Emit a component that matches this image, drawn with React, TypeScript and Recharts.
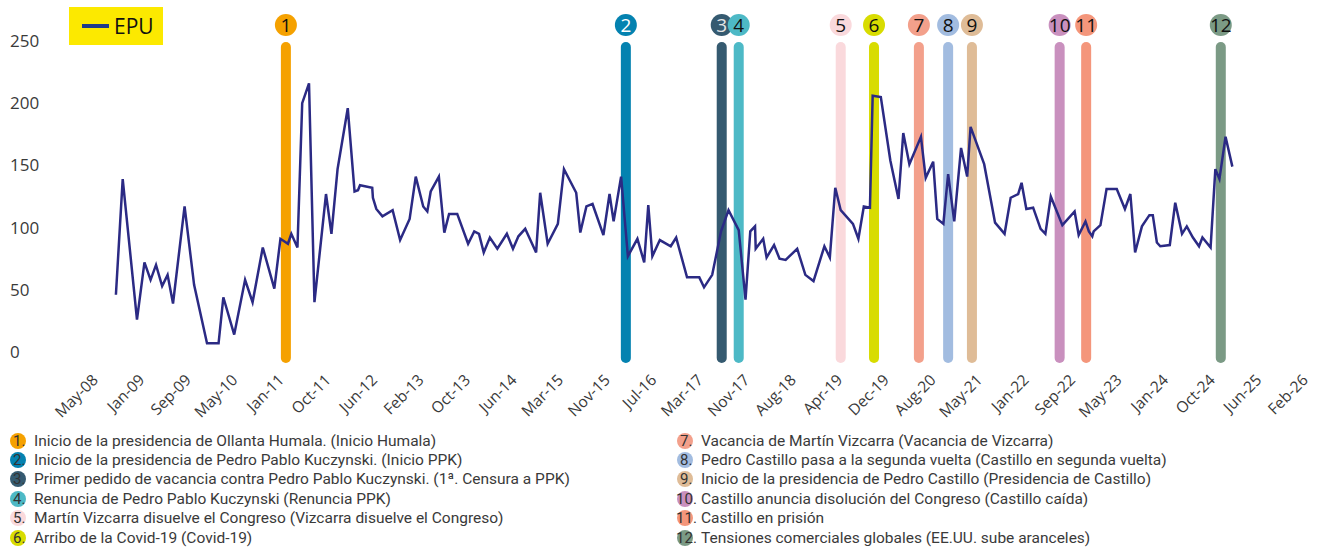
import { LineChart, Line, XAxis, YAxis, ReferenceLine } from "recharts";

// fechas en años decimales, valores del índice EPU
const epuTimes = [
  2009.08, 2009.18, 2009.39, 2009.5, 2009.59, 2009.67, 2009.76, 2009.84, 2009.92, 2010.09,
  2010.23, 2010.42, 2010.59, 2010.66, 2010.82, 2010.98, 2011.09, 2011.24, 2011.41, 2011.5,
  2011.61, 2011.66, 2011.75, 2011.82, 2011.92, 2012.0, 2012.17, 2012.25, 2012.34, 2012.49,
  2012.59, 2012.64, 2012.67, 2012.85, 2012.86, 2012.91, 2013.0, 2013.15, 2013.26, 2013.4,
  2013.49, 2013.6, 2013.66, 2013.71, 2013.83, 2013.91, 2013.98, 2014.1, 2014.26, 2014.35,
  2014.42, 2014.49, 2014.58, 2014.69, 2014.83, 2014.92, 2015.0, 2015.1, 2015.26, 2015.32,
  2015.43, 2015.58, 2015.67, 2015.85, 2015.91, 2016.0, 2016.09, 2016.25, 2016.34, 2016.4,
  2016.51, 2016.61, 2016.75, 2016.85, 2016.91, 2016.97, 2017.08, 2017.24, 2017.32, 2017.48,
  2017.66, 2017.73, 2017.85, 2017.98, 2018.09, 2018.24, 2018.34, 2018.41, 2018.48, 2018.49,
  2018.6, 2018.65, 2018.76, 2018.84, 2018.93, 2019.1, 2019.22, 2019.34, 2019.5, 2019.58,
  2019.66, 2019.74, 2019.92, 2020.0, 2020.08, 2020.17, 2020.21, 2020.33, 2020.47, 2020.59,
  2020.66, 2020.75, 2020.92, 2020.99, 2021.1, 2021.16, 2021.25, 2021.32, 2021.41, 2021.51,
  2021.6, 2021.65, 2021.85, 2022.01, 2022.15, 2022.24, 2022.35, 2022.4, 2022.47, 2022.57,
  2022.68, 2022.75, 2022.83, 2023.0, 2023.18, 2023.24, 2023.34, 2023.39, 2023.44, 2023.46,
  2023.56, 2023.65, 2023.8, 2023.92, 2024.0, 2024.07, 2024.17, 2024.28, 2024.33, 2024.39,
  2024.44, 2024.58, 2024.66, 2024.76, 2024.83, 2024.92, 2025.01, 2025.06, 2025.18, 2025.25,
  2025.31, 2025.4, 2025.5,
];

const epuValues = [
  46, 139, 26, 72, 58, 70, 53, 62, 39, 117,
  54, 7, 7, 44, 14, 58, 40, 84, 51, 91,
  87, 95, 84, 200, 216, 40, 127, 95, 147, 196,
  129, 130, 134, 132, 124, 115, 109, 114, 90, 107,
  141, 117, 113, 129, 141, 96, 111, 111, 87, 97,
  95, 80, 92, 83, 95, 83, 93, 99, 80, 128,
  87, 103, 147, 128, 96, 117, 119, 94, 127, 105,
  141, 77, 91, 72, 118, 77, 90, 85, 92, 60,
  60, 52, 62, 97, 114, 98, 42, 97, 101, 83,
  91, 76, 86, 75, 74, 83, 62, 57, 85, 76,
  132, 114, 103, 91, 117, 116, 206, 205, 154, 123,
  176, 151, 173, 140, 153, 107, 103, 143, 105, 164,
  141, 181, 151, 104, 95, 124, 127, 136, 115, 116,
  99, 95, 125, 102, 113, 94, 105, 97, 93, 97,
  102, 131, 131, 115, 127, 80, 101, 110, 110, 88,
  85, 86, 120, 95, 101, 92, 85, 92, 84, 147,
  139, 173, 149,
];

// eje x: una marca cada 250 días desde el 1 de mayo de 2008
const axisStart = 2008.3313;
const axisStepDays = 250;
const xTickLabels = [
  "May-08", "Jan-09", "Sep-09", "May-10", "Jan-11", "Oct-11", "Jun-12", "Feb-13", "Oct-13",
  "Jun-14", "Mar-15", "Nov-15", "Jul-16", "Mar-17", "Nov-17", "Aug-18", "Apr-19", "Dec-19",
  "Aug-20", "May-21", "Jan-22", "Sep-22", "May-23", "Jan-24", "Oct-24", "Jun-25", "Feb-26",
];
const yTicks = [0, 50, 100, 150, 200, 250];

// eventos
const eventTimes = [
  2011.58, 2016.58, 2017.99, 2018.24, 2019.74, 2020.23, 2020.89, 2021.32, 2021.67, 2022.96,
  2023.35, 2025.33,
];
const eventColors = [
  "#F5A100", "#0482B0", "#355A70", "#4DB9C6", "#FAD9DC", "#D8DC00",
  "#F3A08B", "#A2BCE0", "#DFBC97", "#C990BE", "#F4967B", "#7B9A85",
];
const eventNumberColors = [
  "#111", "#fff", "#e6e6e6", "#111", "#111", "#111",
  "#111", "#111", "#111", "#111", "#111", "#111",
];
const eventLabels = [
  "Inicio de la presidencia de Ollanta Humala. (Inicio Humala)",
  "Inicio de la presidencia de Pedro Pablo Kuczynski. (Inicio PPK)",
  "Primer pedido de vacancia contra Pedro Pablo Kuczynski. (1ª. Censura a PPK)",
  "Renuncia de Pedro Pablo Kuczynski (Renuncia PPK)",
  "Martín Vizcarra disuelve el Congreso (Vizcarra disuelve el Congreso)",
  "Arribo de la Covid-19 (Covid-19)",
  "Vacancia de Martín Vizcarra (Vacancia de Vizcarra)",
  "Pedro Castillo pasa a la segunda vuelta (Castillo en segunda vuelta)",
  "Inicio de la presidencia de Pedro Castillo (Presidencia de Castillo)",
  "Castillo anuncia disolución del Congreso (Castillo caída)",
  "Castillo en prisión",
  "Tensiones comerciales globales (EE.UU. sube aranceles)",
];

const chartData = epuTimes.map((t, i) => ({ t, epu: epuValues[i] }));
const xTicks = xTickLabels.map((_, i) => axisStart + (i * axisStepDays) / 365.25);

const FONT = "'Open Sans', sans-serif";
const TEXT = "#3a3a3a";

const XTick = ({ x, y, index }: any) => (
  <text
    x={x + 34}
    y={y + 21}
    transform={`rotate(-45, ${x + 34}, ${y + 21})`}
    textAnchor="end"
    fontSize={15.5}
    fontFamily={FONT}
    fill={TEXT}
  >
    {xTickLabels[index]}
  </text>
);

const YTick = ({ y, payload }: any) => (
  <text x={10} y={y} dy="0.35em" textAnchor="start" fontSize={17} fontFamily={FONT} fill={TEXT}>
    {payload.value}
  </text>
);

const EventMarker = ({ x1, y1, y2, idx }: any) => {
  const top = Math.min(y1, y2);
  const bottom = Math.max(y1, y2);
  const w = 10;
  return (
    <g>
      <rect x={x1 - w / 2} y={top + 1} width={w} height={bottom - top + 10} rx={w / 2} fill={eventColors[idx]} />
      <circle cx={x1} cy={top - 16} r={11} fill={eventColors[idx]} />
      <text
        x={x1}
        y={top - 16}
        dy="0.36em"
        textAnchor="middle"
        fontSize={19}
        fontWeight={500}
        fontFamily={FONT}
        fill={eventNumberColors[idx]}
      >
        {idx + 1}
      </text>
    </g>
  );
};

const LegendItem = ({ idx }: { idx: number }) => (
  <div style={{ display: "flex", alignItems: "center", height: 19.4, whiteSpace: "nowrap" }}>
    <span
      style={{
        position: "relative",
        display: "inline-block",
        width: 16,
        height: 16,
        borderRadius: 8,
        background: eventColors[idx],
        marginRight: 8,
        flexShrink: 0,
      }}
    >
      <span
        style={{
          position: "absolute",
          left: idx >= 9 ? -1 : 3,
          top: -1,
          fontSize: 15,
          lineHeight: "18px",
          color: "#333",
        }}
      >
        {idx + 1}.
      </span>
    </span>
    <span>{eventLabels[idx]}</span>
  </div>
);

export default function App() {
  return (
    <div
      style={{
        position: "absolute",
        left: 0,
        top: 0,
        width: 1320,
        height: 548,
        background: "#fff",
        overflow: "hidden",
      }}
    >
      <LineChart
        width={1320}
        height={548}
        data={chartData}
        margin={{ top: 41, right: 45, left: 0, bottom: 0 }}
      >
        <XAxis
          type="number"
          dataKey="t"
          domain={[xTicks[0], xTicks[xTicks.length - 1]]}
          ticks={xTicks}
          interval={0}
          allowDataOverflow
          axisLine={false}
          tickLine={false}
          height={196}
          tick={<XTick />}
        />
        <YAxis
          type="number"
          domain={[0, 250]}
          ticks={yTicks}
          width={65}
          axisLine={false}
          tickLine={false}
          tick={<YTick />}
        />
        {eventTimes.map((t, i) => (
          <ReferenceLine
            key={i}
            x={t}
            stroke={eventColors[i]}
            shape={(p: any) => <EventMarker {...p} idx={i} />}
          />
        ))}
        <Line
          type="linear"
          dataKey="epu"
          stroke="#2B2A84"
          strokeWidth={2.5}
          dot={false}
          activeDot={false}
          isAnimationActive={false}
        />
      </LineChart>

      {/* leyenda EPU */}
      <div
        style={{
          position: "absolute",
          left: 69,
          top: 7,
          width: 94,
          height: 38,
          background: "#FCE900",
          display: "flex",
          alignItems: "center",
          fontFamily: FONT,
        }}
      >
        <span style={{ display: "inline-block", width: 27, height: 4, background: "#1E3A8A", marginLeft: 13 }} />
        <span style={{ fontSize: 21, color: "#111", marginLeft: 5 }}>EPU</span>
      </div>

      {/* leyenda de eventos */}
      <div
        style={{
          position: "absolute",
          left: 10,
          top: 431,
          fontFamily: "Roboto, sans-serif",
          fontSize: 15.5,
          color: TEXT,
        }}
      >
        {[0, 1, 2, 3, 4, 5].map((i) => (
          <LegendItem key={i} idx={i} />
        ))}
      </div>
      <div
        style={{
          position: "absolute",
          left: 677,
          top: 431,
          fontFamily: "Roboto, sans-serif",
          fontSize: 15.5,
          color: TEXT,
        }}
      >
        {[6, 7, 8, 9, 10, 11].map((i) => (
          <LegendItem key={i} idx={i} />
        ))}
      </div>
    </div>
  );
}
